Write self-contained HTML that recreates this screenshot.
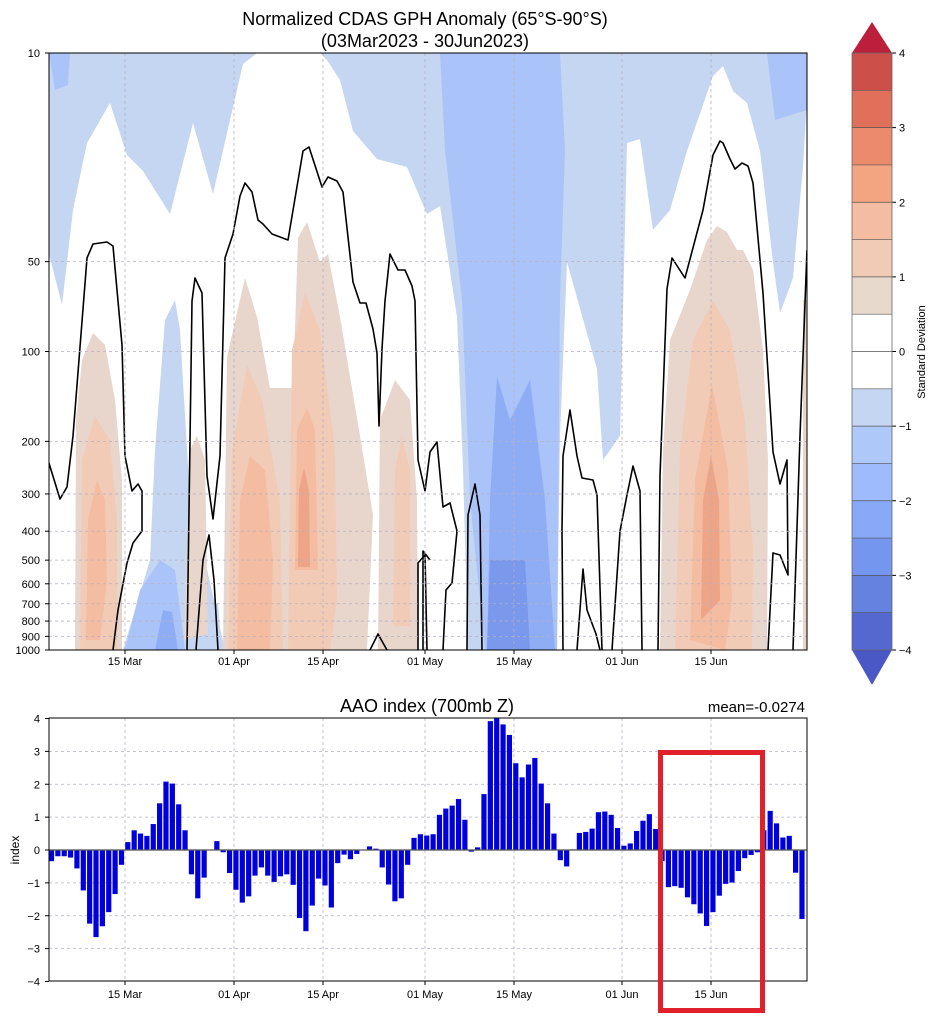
<!DOCTYPE html>
<html><head><meta charset="utf-8"><style>
html,body{margin:0;padding:0;background:#fff;}
svg{display:block;font-family:"Liberation Sans","DejaVu Sans",sans-serif;}
</style></head><body>
<svg id="s" width="952" height="1024" viewBox="0 0 952 1024" xmlns="http://www.w3.org/2000/svg">
<rect width="952" height="1024" fill="#fff"/>
<text x="425" y="25" font-size="18" text-anchor="middle">Normalized CDAS GPH Anomaly (65°S-90°S)</text>
<text x="425" y="47" font-size="18" text-anchor="middle">(03Mar2023 - 30Jun2023)</text>
<defs><clipPath id="cp"><rect x="49" y="53" width="758" height="597"/></clipPath></defs>
<g clip-path="url(#cp)">
<!-- upper blue -->
<polygon fill="#c5d6f2" points="49,53 807,53 807,99 803,167 793,278 780,313 773,262 760,151 747,103 733,91 723,66 713,76 687,151 670,210 653,230 640,139 627,143 620,436 603,460 597,369 567,262 560,436 557,650 468,650 463,468 457,317 440,206 427,214 407,167 377,159 353,131 340,80 327,60 320,53 257,53 243,64 233,107 213,194 193,123 170,214 143,171 127,155 110,103 87,143 73,210 62,305 49,254"/>
<polygon fill="#fff" points="477,325 483,330 485,475 478,470"/>
<polygon fill="#aac4fa" points="440,53 560,53 565,150 560,300 557,650 485,650 470,500 462,300 445,150"/>
<polygon fill="#aac4fa" points="767,53 807,53 807,110 775,120"/>
<polygon fill="#aac4fa" points="49,53 70,53 68,85 55,90"/>
<polygon fill="#8fadf5" points="497,376 510,420 530,380 545,500 555,650 487,650 490,500"/>
<polygon fill="#7a98ec" points="490,560 525,560 530,650 487,650"/>
<!-- blue column near 1 Apr -->
<polygon fill="#c5d6f2" points="165,320 175,300 180,330 190,500 205,560 225,650 123,650 150,560 155,450"/>
<polygon fill="#aac4fa" points="125,650 140,590 160,560 175,570 185,650"/>
<polygon fill="#8fadf5" points="155,650 163,610 172,612 178,650"/>
<polygon fill="#c5d6f2" points="207,650 212,602 218,604 222,650"/>
<!-- left warm -->
<polygon fill="#e8d6cc" points="75,650 76,420 82,360 93,333 105,345 115,400 122,480 122,650"/>
<polygon fill="#f2cbb7" points="80,650 82,460 95,416 110,440 117,520 117,650"/>
<polygon fill="#f4bca0" points="86,640 88,520 97,480 105,500 107,580 100,640"/>
<!-- middle warm -->
<polygon fill="#e8d6cc" points="223,650 227,357 245,278 257,317 270,388 293,388 298,238 307,222 320,262 328,254 340,317 360,436 373,515 367,650"/>
<polygon fill="#e8d6cc" points="184,640 190,450 197,436 205,460 208,634"/>
<polygon fill="#e8d6cc" points="378,650 380,420 395,380 410,400 417,500 418,650"/>
<polygon fill="#f2cbb7" points="393,626 395,470 402,436 410,470 410,626"/>
<polygon fill="#f2cbb7" points="228,650 232,450 247,365 262,400 280,500 283,650"/>
<polygon fill="#f2cbb7" points="288,650 292,350 305,293 320,330 335,450 337,600 330,650"/>
<polygon fill="#f4bca0" points="237,650 240,500 250,456 265,470 273,560 270,650"/>
<polygon fill="#f4bca0" points="295,570 297,430 307,408 315,430 318,570"/>
<polygon fill="#eea487" points="298,567 299,490 304,468 309,490 310,567"/>
<!-- right warm -->
<polygon fill="#e8d6cc" points="660,650 663,450 670,340 690,290 707,240 717,226 727,232 737,250 743,250 753,270 763,350 768,460 767,650"/>
<polygon fill="#f2cbb7" points="675,650 680,450 693,340 713,301 730,330 745,420 753,550 752,650"/>
<polygon fill="#f4bca0" points="690,640 695,480 712,384 728,470 732,600 725,650"/>
<polygon fill="#eea487" points="701,620 703,500 711,456 719,500 720,600"/>
<rect x="803" y="300" width="4" height="350" fill="#e8d6cc"/>
<!-- contours -->
<g fill="none" stroke="#000" stroke-width="1.6" stroke-linejoin="round">
<polyline points="48,460 60,499 67,487 73,436 87,258 93,244 107,242 113,246 122,345 125,456 132,491 138,484 142,491 142,531 133,543 127,563 118,610 113,650"/>
<polyline points="187,650 192,301 195,278 202,293 207,476 213,519 220,456 225,258 233,234 240,196 245,183 252,192 258,220 263,224 272,234 288,240 303,151 309,147 322,187 328,177 337,181 343,192 353,282 360,303 366,303 373,329 377,353 379,426 382,349 385,301 390,254 398,270 405,270 412,286 415,301 418,460 425,491 430,452 437,442 443,507 450,503 457,531 452,583 446,590 443,650"/>
<polyline points="196,650 203,560 209,535 214,580 218,650"/>
<polyline points="418,650 418,563 425,555 427,650"/>
<polyline points="370,650 378,634 387,650"/>
<polyline points="423,650 423,551 430,560"/>
<polyline points="467,650 468,515 475,484 480,515 482,650"/>
<polyline points="563,650 562,531 563,456 570,410 577,456 582,478 593,480 597,495 602,650"/>
<polyline points="577,650 583,569 587,610 596,634 600,650"/>
<polyline points="612,650 620,531 627,495 633,466 640,491 642,650"/>
<polyline points="658,650 660,476 667,289 672,258 685,278 703,210 713,155 720,141 723,143 730,159 735,169 742,163 748,166 753,183 763,293 773,452 780,484 787,460 788,575 780,555 773,553 768,650"/>
<polyline points="793,650 800,436 807,250"/>
</g>
</g>
<g id="topgrid" stroke="#b8b0c0" stroke-width="0.8" stroke-dasharray="3,3"></g>
<rect x="49" y="53" width="758" height="597" fill="none" stroke="#000" stroke-width="1"/>
<g id="toplab" font-size="11" fill="#000"></g>

<!-- colorbar -->
<g id="cb"></g>
<polygon points="852,53 892,53 872,22" fill="#bb1f3c"/>
<polygon points="852,650 892,650 872,685" fill="#4a58c6"/>
<rect x="852" y="53" width="40" height="597" fill="none" stroke="#666" stroke-width="0.8"/>
<text transform="translate(925,352) rotate(-90)" font-size="11" text-anchor="middle">Standard Deviation</text>

<!-- bottom -->
<text x="427" y="712" font-size="18" text-anchor="middle">AAO index (700mb Z)</text>
<text x="805" y="712" font-size="15" text-anchor="end">mean=-0.0274</text>
<g id="botgrid" stroke="#b8b0c0" stroke-width="0.8" stroke-dasharray="3,3"></g>
<g id="bars" fill="#0000dd"></g>
<line x1="49" y1="850" x2="807" y2="850" stroke="#555" stroke-width="1.2"/>
<rect x="49" y="718" width="758" height="263" fill="none" stroke="#000" stroke-width="1"/>
<g id="botlab" font-size="11"></g>
<text transform="translate(19,850) rotate(-90)" font-size="12" text-anchor="middle">index</text>
<rect x="660.5" y="752.5" width="102" height="258" fill="none" stroke="#e0202a" stroke-width="5"/>
</svg>
<script>
var NS="http://www.w3.org/2000/svg";
function el(p,t,a,txt){var e=document.createElementNS(NS,t);for(var k in a)e.setAttribute(k,a[k]);if(txt!==undefined)e.textContent=txt;document.getElementById(p).appendChild(e);return e;}
var dates=[[125,"15 Mar"],[234,"01 Apr"],[323,"15 Apr"],[425,"01 May"],[514,"15 May"],[622,"01 Jun"],[711,"15 Jun"]];
var ps=[10,50,100,200,300,400,500,600,700,800,900,1000];
ps.forEach(function(p){var y=53+298.5*(Math.log10(p)-1);
 if(p!=10&&p!=1000)el("topgrid","line",{x1:49,x2:807,y1:y,y2:y});
 el("toplab","text",{x:40,y:y+4,"text-anchor":"end"},p);
 el("toplab","line",{x1:45,x2:49,y1:y,y2:y,stroke:"#000"});});
dates.forEach(function(d){el("topgrid","line",{x1:d[0],x2:d[0],y1:53,y2:650});
 el("toplab","text",{x:d[0],y:665,"text-anchor":"middle"},d[1]);
 el("toplab","line",{x1:d[0],x2:d[0],y1:650,y2:654,stroke:"#000"});
 el("botgrid","line",{x1:d[0],x2:d[0],y1:718,y2:981});
 el("botlab","text",{x:d[0],y:998,"text-anchor":"middle"},d[1]);
 el("botlab","line",{x1:d[0],x2:d[0],y1:981,y2:985,stroke:"#000"});});
for(var v=-4;v<=4;v++){var y=850-v*32.875;
 if(v!=4&&v!=-4)el("botgrid","line",{x1:49,x2:807,y1:y,y2:y});
 el("botlab","text",{x:40,y:y+4,"text-anchor":"end"},v<0?"\u2212"+(-v):v);
 el("botlab","line",{x1:45,x2:49,y1:y,y2:y,stroke:"#000"});}
var cols=["#cc4f4a","#e0705a","#ec8a6c","#f3a582","#f4bca0","#f2cbb7","#e8d9cd","#ffffff","#ffffff","#c5d6f2","#afc8fa","#9dbbfd","#87a9f7","#7596ee","#6582e0","#5468d0"];
var u=597/16;
cols.forEach(function(c,i){el("cb","rect",{x:852,y:53+i*u,width:40,height:u+0.5,fill:c});
 if(i>0)el("cb","line",{x1:852,x2:892,y1:53+i*u,y2:53+i*u,stroke:"#555","stroke-width":0.7});});
for(var v=4;v>=-4;v--){var y=53+(4-v)*2*u;
 el("cb","line",{x1:892,x2:896,y1:y,y2:y,stroke:"#000"});
 el("cb","text",{x:899,y:y+4,"font-size":11},v<0?"\u2212"+(-v):v);}
var vals=[-0.34,-0.19,-0.19,-0.23,-0.56,-1.23,-2.24,-2.65,-2.32,-1.89,-1.34,-0.45,0.24,0.6,0.5,0.43,0.79,1.42,2.08,2.02,1.39,0.6,-0.74,-1.47,-0.84,0,0.27,-0.07,-0.7,-1.21,-1.6,-1.41,-0.78,-0.53,-0.78,-0.97,-0.8,-0.74,-1.06,-2.07,-2.47,-1.69,-0.87,-1.08,-1.75,-0.4,-0.14,-0.28,-0.12,0,0.11,0.04,-0.53,-1.05,-1.56,-1.47,-0.45,0.37,0.48,0.44,0.48,1.07,1.26,1.35,1.55,0.92,-0.05,0.08,1.7,3.92,4.0,3.82,3.5,2.64,2.21,2.6,2.8,2.02,1.42,0.5,-0.31,-0.5,0.02,0.52,0.55,0.65,1.15,1.17,1.07,0.67,0.13,0.2,0.58,0.89,1.09,0.64,-0.34,-1.13,-1.1,-1.15,-1.44,-1.65,-1.93,-2.31,-1.89,-1.39,-1.03,-0.99,-0.64,-0.25,-0.15,-0.07,0.6,1.19,0.81,0.38,0.43,-0.69,-2.1];
vals.forEach(function(v,i){var cx=51.5+6.36*i;var h=Math.abs(v)*32.875;
 el("bars","rect",{x:cx-2.6,y:v>=0?850-h:850,width:5.2,height:Math.max(h,0.3)});});
</script>
</body></html>
